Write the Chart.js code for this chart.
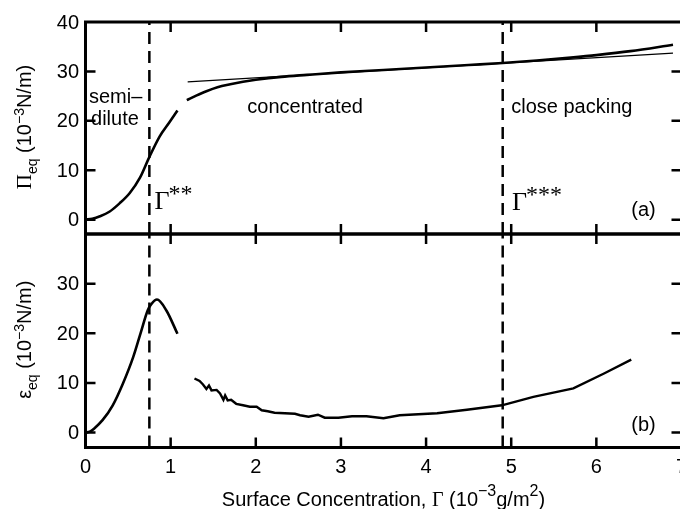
<!DOCTYPE html>
<html>
<head>
<meta charset="utf-8">
<script src="https://cdn.jsdelivr.net/npm/chart.js@4.4.1/dist/chart.umd.min.js"></script>
<style>
  html, body { margin: 0; padding: 0; background: #fff; overflow: hidden; }
  #wrap { position: relative; width: 680px; height: 509px; overflow: hidden; }
  #wrap canvas { position: absolute; left: 0; top: 0; }
</style>
</head>
<body>
<div id="wrap">
  <canvas id="piChart" width="700" height="509"></canvas>
  <canvas id="epsChart" width="700" height="509"></canvas>
</div>
<script>
// values: Γ in 10^-3 g/m^2, Π and ε in 10^-3 N/m
const xTicks = [0, 1, 2, 3, 4, 5, 6, 7];
const piTicks = [0, 10, 20, 30, 40];
const epsTicks = [0, 10, 20, 30];
const criticalGamma = [0.75, 4.9]; // Γ** and Γ***

const piDiluteX = [0, 0.08, 0.17, 0.28, 0.4, 0.52, 0.64, 0.74, 0.87, 0.99, 1.08];
const piDiluteY = [0, 0.2, 0.7, 1.6, 3.3, 5.4, 8.5, 12.3, 16.8, 19.8, 22.1];

const piConcX = [1.19, 1.3, 1.42, 1.55, 1.7, 1.85, 2.0, 2.3, 2.6, 3.0, 3.5, 4.0, 4.5, 4.9, 5.3, 5.7, 6.0, 6.4, 6.9];
const piConcY = [24.2, 25.1, 26.0, 26.8, 27.4, 27.9, 28.3, 28.9, 29.3, 29.8, 30.3, 30.8, 31.3, 31.7, 32.2, 32.8, 33.3, 34.1, 35.4];

const tangentX = [1.2, 6.9];
const tangentY = [27.9, 33.7];

const epsDiluteX = [0, 0.05, 0.1, 0.2, 0.32, 0.44, 0.56, 0.65, 0.73, 0.77, 0.84, 0.95, 1.08];
const epsDiluteY = [0, 0.2, 0.8, 2.5, 5.5, 9.9, 15.2, 20.2, 24.6, 25.8, 26.8, 24.6, 19.9];

const epsConcX = [1.28, 1.34, 1.38, 1.42, 1.45, 1.48, 1.54, 1.58, 1.62, 1.64, 1.67, 1.71, 1.77, 1.85, 1.93, 2.01, 2.07, 2.14, 2.22,
  2.34, 2.46, 2.52, 2.62, 2.73, 2.81, 2.97, 3.13, 3.3, 3.5, 3.69, 4.13, 4.48, 4.89, 5.26, 5.73, 6.09, 6.41];
const epsConcY = [10.9, 10.4, 9.7, 8.8, 9.5, 8.5, 8.6, 7.9, 6.6, 7.5, 6.5, 6.6, 5.8, 5.5, 5.2, 5.2, 4.5, 4.3, 4.0,
  3.9, 3.8, 3.5, 3.2, 3.6, 3.0, 3.0, 3.3, 3.3, 2.9, 3.5, 3.9, 4.6, 5.5, 7.2, 8.9, 11.9, 14.7];

const xMin = 0, xMax = 7;
const piMin = -2.9, piMax = 40;
const epsMin = -3, epsMax = 40;

const SANS = '"Liberation Sans", Arial, Helvetica, sans-serif';
const SERIF = '"Liberation Serif", "Times New Roman", serif';
const TICK = 10;

const pts = (xs, ys) => xs.map((x, i) => ({ x, y: ys[i] }));

function curve(xs, ys, width, smooth) {
  return {
    data: pts(xs, ys),
    borderColor: '#000',
    borderWidth: width,
    pointRadius: 0,
    fill: false,
    tension: 0,
    cubicInterpolationMode: smooth ? 'monotone' : 'default'
  };
}

function dashed(lo, hi) {
  return criticalGamma.map(g => ({
    data: [{ x: g, y: lo }, { x: g, y: hi }],
    borderColor: '#000',
    borderWidth: 2.5,
    borderDash: [12, 7],
    pointRadius: 0,
    fill: false
  }));
}

// draw a run of text pieces (sub/superscripts) one after another
function drawRuns(ctx, runs, x, y) {
  let w = 0;
  runs.forEach(r => { ctx.font = r.font; w += ctx.measureText(r.text).width; });
  let cx = x - w / 2;
  runs.forEach(r => {
    ctx.font = r.font;
    ctx.fillText(r.text, cx, y + (r.dy || 0));
    cx += ctx.measureText(r.text).width;
  });
}

// box, inward ticks on all four sides, and the tick labels
function framePlugin(yVals, yLabels, showX) {
  return {
    id: 'frame',
    afterDatasetsDraw(chart) {
      const { ctx, chartArea: a, scales: { x, y } } = chart;
      ctx.save();
      ctx.strokeStyle = '#000';
      ctx.lineWidth = 3;
      ctx.strokeRect(a.left, a.top, a.right - a.left, a.bottom - a.top);
      ctx.lineWidth = 2.5;
      ctx.beginPath();
      xTicks.forEach(v => {
        const px = x.getPixelForValue(v);
        ctx.moveTo(px, a.top); ctx.lineTo(px, a.top + TICK);
        ctx.moveTo(px, a.bottom); ctx.lineTo(px, a.bottom - TICK);
      });
      yVals.forEach(v => {
        const py = y.getPixelForValue(v);
        ctx.moveTo(a.left, py); ctx.lineTo(a.left + TICK, py);
        ctx.moveTo(a.right, py); ctx.lineTo(a.right - TICK, py);
      });
      ctx.stroke();

      ctx.fillStyle = '#000';
      ctx.font = '20px ' + SANS;
      ctx.textAlign = 'right';
      ctx.textBaseline = 'middle';
      yLabels.forEach(v => ctx.fillText(String(v), a.left - 6.5, y.getPixelForValue(v) + 1));
      if (showX) {
        ctx.textAlign = 'center';
        xTicks.forEach(v => ctx.fillText(String(v), x.getPixelForValue(v), a.bottom + 20));
      }
      ctx.restore();
    }
  };
}

function label(ctx, chart, text, xv, yv, font) {
  const { x, y } = chart.scales;
  ctx.font = font;
  ctx.fillText(text, x.getPixelForValue(xv), y.getPixelForValue(yv));
}

function gammaMark(ctx, chart, stars, xv, yv) {
  const { x, y } = chart.scales;
  const px = x.getPixelForValue(xv), py = y.getPixelForValue(yv);
  ctx.font = '26px ' + SERIF;
  ctx.fillText('Γ', px, py);
  const w = ctx.measureText('Γ').width;
  ctx.font = '24px ' + SERIF;
  ctx.fillText(stars, px + w - 1, py - 8);
}

function yTitle(ctx, chart, symbol, symFont) {
  const a = chart.chartArea;
  ctx.save();
  ctx.translate(a.left - 54.5, (a.top + a.bottom) / 2 - 1);
  ctx.rotate(-Math.PI / 2);
  drawRuns(ctx, [
    { text: symbol, font: symFont },
    { text: 'eq', font: '14px ' + SANS, dy: 6 },
    { text: ' (10', font: '20px ' + SANS },
    { text: '−3', font: '14px ' + SANS, dy: -7 },
    { text: 'N/m)', font: '20px ' + SANS }
  ], 0, 0);
  ctx.restore();
}

const piNotes = {
  id: 'piNotes',
  afterDraw(chart) {
    const ctx = chart.ctx;
    ctx.save();
    ctx.fillStyle = '#000';
    ctx.textAlign = 'left';
    ctx.textBaseline = 'alphabetic';
    label(ctx, chart, 'semi–', 0.04, 23.6, '20px ' + SANS);
    label(ctx, chart, 'dilute', 0.065, 19.2, '20px ' + SANS);
    label(ctx, chart, 'concentrated', 1.9, 21.5, '20px ' + SANS);
    label(ctx, chart, 'close packing', 5.0, 21.5, '20px ' + SANS);
    label(ctx, chart, '(a)', 6.41, 0.75, '20px ' + SANS);
    gammaMark(ctx, chart, '**', 0.81, 2.1);
    gammaMark(ctx, chart, '***', 5.01, 1.96);
    yTitle(ctx, chart, 'Π', '21px ' + SERIF);
    ctx.restore();
  }
};

const epsNotes = {
  id: 'epsNotes',
  afterDraw(chart) {
    const ctx = chart.ctx;
    const a = chart.chartArea;
    ctx.save();
    ctx.fillStyle = '#000';
    ctx.textAlign = 'left';
    ctx.textBaseline = 'alphabetic';
    label(ctx, chart, '(b)', 6.41, 0.26, '20px ' + SANS);
    yTitle(ctx, chart, 'ε', '20px ' + SANS);
    drawRuns(ctx, [
      { text: 'Surface Concentration, ', font: '20px ' + SANS },
      { text: 'Γ', font: '20px ' + SERIF },
      { text: ' (10', font: '20px ' + SANS },
      { text: '−3', font: '16px ' + SANS, dy: -10 },
      { text: 'g/m', font: '20px ' + SANS },
      { text: '2', font: '16px ' + SANS, dy: -10 },
      { text: ')', font: '20px ' + SANS }
    ], (a.left + a.right) / 2, a.bottom + 58.5);
    ctx.restore();
  }
};

function panelOptions(yMin, yMax, padding) {
  return {
    responsive: false,
    animation: false,
    events: [],
    layout: { padding },
    plugins: { legend: { display: false }, tooltip: { enabled: false } },
    scales: {
      x: {
        type: 'linear',
        min: xMin,
        max: xMax,
        grid: { display: false },
        border: { display: false },
        ticks: { display: false },
        afterFit: axis => { axis.height = 0; }
      },
      y: {
        type: 'linear',
        min: yMin,
        max: yMax,
        grid: { display: false },
        border: { display: false },
        ticks: { display: false },
        afterFit: axis => { axis.width = 0; }
      }
    }
  };
}

new Chart(document.getElementById('piChart'), {
  type: 'line',
  data: {
    datasets: [
      ...dashed(piMin, piMax),
      curve(piDiluteX, piDiluteY, 2.6, true),
      curve(piConcX, piConcY, 2.6, true),
      curve(tangentX, tangentY, 1.2, false)
    ]
  },
  options: panelOptions(piMin, piMax, { left: 85.5, right: 18.5, top: 22, bottom: 275 }),
  plugins: [framePlugin(piTicks.slice(0, 4), piTicks, false), piNotes]
});

new Chart(document.getElementById('epsChart'), {
  type: 'line',
  data: {
    datasets: [
      ...dashed(epsMin, epsMax),
      curve(epsDiluteX, epsDiluteY, 2.6, true),
      curve(epsConcX, epsConcY, 2.4, false)
    ]
  },
  options: panelOptions(epsMin, epsMax, { left: 85.5, right: 18.5, top: 234, bottom: 61.5 }),
  plugins: [framePlugin(epsTicks, epsTicks, true), epsNotes]
});
</script>
</body>
</html>
